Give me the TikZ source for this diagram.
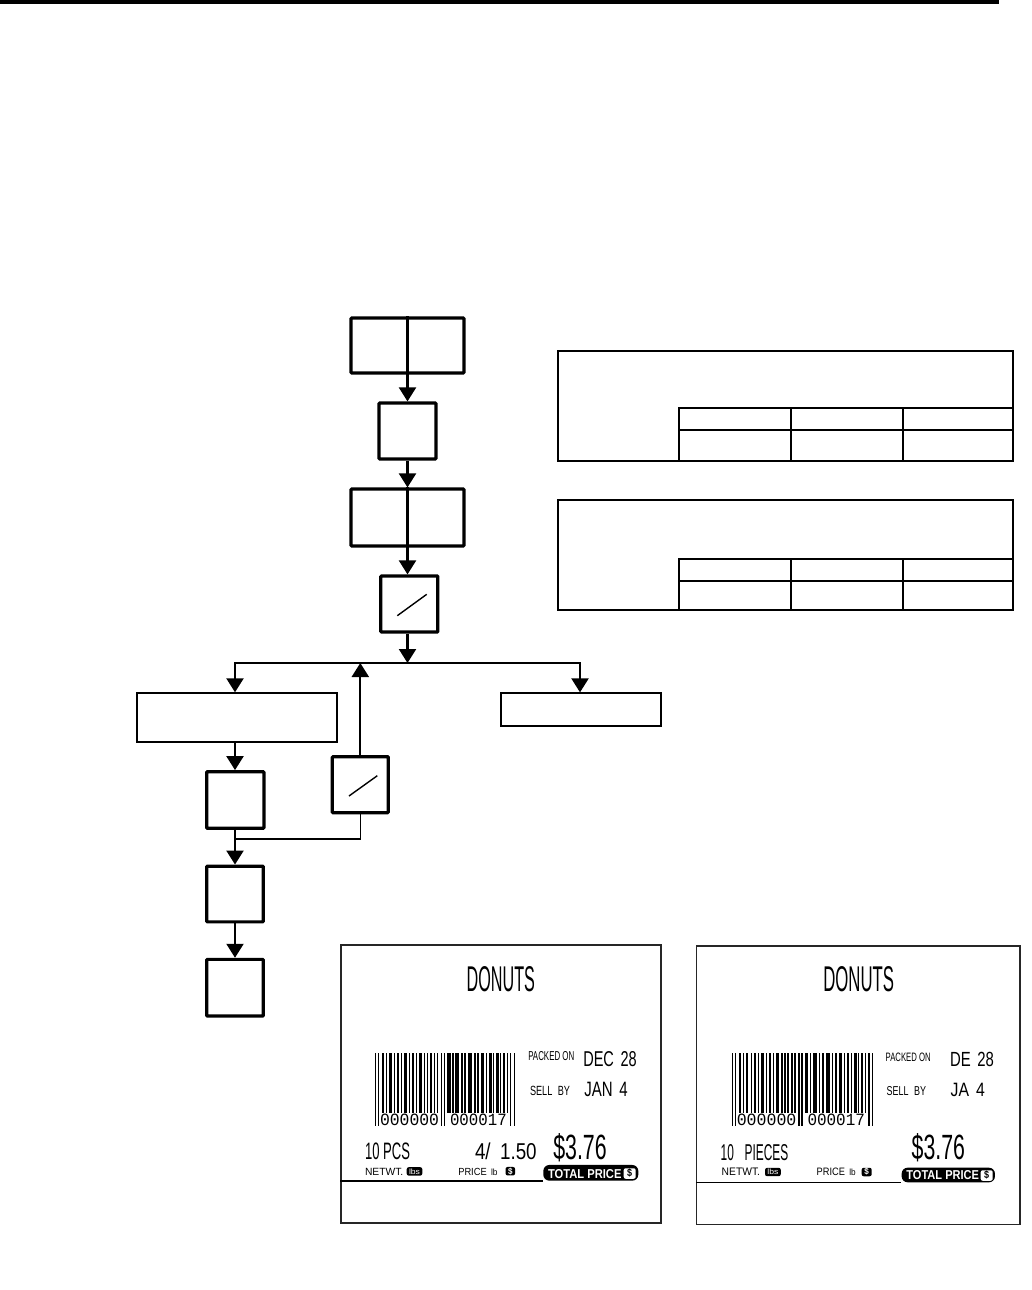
\documentclass[tikz,border=0pt]{standalone}
\usepackage{fontspec}
\usepackage{graphicx}
\newfontfamily\lf{Liberation Sans}
\newfontfamily\lmono{Liberation Mono}
\usetikzlibrary{arrows.meta}
\newcommand\fitt[3]{\resizebox{#1pt}{#2pt}{\lf #3}}
\newcommand\fitT[3]{\resizebox*{#1pt}{#2pt}{\lf #3}}
\newcommand\fitm[3]{\resizebox{#1pt}{#2pt}{\lmono #3}}
\tikzset{
  thickbox/.style={draw, line width=3.2pt, inner sep=0pt, rounded corners=0.8pt},
  thinbox/.style={draw, line width=2pt, inner sep=0pt},
  tbl/.style={draw, line width=2.2pt, inner sep=0pt},
  tline/.style={line width=2.2pt},
  conn/.style={line width=2.2pt},
  arr/.style={conn, -{Triangle[width=17pt,length=14pt]}},
  thinconn/.style={line width=1.6pt},
  slashline/.style={line width=1.4pt},
  labelbox/.style={draw=black!85, line width=1.2pt, inner sep=0pt},
  labline/.style={line width=1.3pt},
  txt/.style={anchor=north west, inner sep=0pt, outer sep=0pt},
  badge/.style={fill=black, inner sep=0pt, text=white},
  wbadge/.style={fill=white, inner sep=0pt, text=black, rounded corners=2pt},
}
\begin{document}
\begin{tikzpicture}[x=1pt,y=-1pt]
\useasboundingbox (0,0) rectangle (1031,1290);
% top rule
\fill (0,0) rectangle (999,4.5);

% ---- main chain ----
\node[thickbox, minimum width=113pt, minimum height=55pt] (b1) at (407.5,345.5) {};
\draw[line width=3.2pt] (b1.north) -- (b1.south);
\node[thickbox, minimum width=57pt, minimum height=56pt] (b2) at (407.5,431) {};
\node[thickbox, minimum width=113pt, minimum height=57pt] (b3) at (407.5,517.5) {};
\draw[line width=3.2pt] (b3.north) -- (b3.south);
\node[thickbox, minimum width=57pt, minimum height=56pt] (b4) at (409.3,604) {};
\draw[slashline] (b4.center) ++(-12,11.7) -- ++(29.4,-21.4);

\draw[arr] (b1.south) -- (b2.north);
\draw[arr] (b2.south) -- (b3.north);
\draw[arr] (b3.south) -- (b3.south |- b4.north);

\coordinate (j0) at (407.5,663);
\coordinate (jl) at (235,663);
\coordinate (jr) at (580,663);
\draw[arr] (b4.south -| b3.south) -- (j0);

\node[thinbox, minimum width=200.6pt, minimum height=48.4pt] (L) at (237,717.5) {};
\node[thinbox, minimum width=160pt, minimum height=32.7pt] (R) at (580.7,709.7) {};
\draw[conn, line join=miter, {Triangle[width=17pt,length=14pt]}-{Triangle[width=17pt,length=14pt]}]
  (jl |- L.north) -- (jl) -- (jr) -- (jr |- R.north);

\node[thickbox, minimum width=56pt, minimum height=56pt] (S) at (360.3,784.7) {};
\draw[slashline] (S.center) ++(-11.3,11.3) -- ++(28.3,-20.3);
\draw[arr] (S.north) -- (S.north |- j0);

\node[thickbox, minimum width=57.3pt, minimum height=56.6pt] (A) at (235.3,800) {};
\node[thickbox, minimum width=56.6pt, minimum height=55.7pt] (B) at (235,894) {};
\node[thickbox, minimum width=56.6pt, minimum height=56.7pt] (C) at (235,987.7) {};
\coordinate (jn) at (235,839);
\draw[arr] (L.south -| jl) -- (A.north -| jl);
\draw[thinconn] (S.south) |- (jn);
\draw[arr] (A.south -| jn) -- (B.north -| jn);
\draw[arr] (B.south) -- (C.north);

% ---- tables ----
\node[tbl, minimum width=455.3pt, minimum height=110pt] (t1) at (785.3,405.7) {};
\draw[tline] (679,460.7) -- (679,408.3) -- (1013,408.3);
\draw[tline] (679,430) -- (1013,430);
\draw[tline] (791,408.3) -- (791,460.7);
\draw[tline] (902.7,408.3) -- (902.7,460.7);

\node[tbl, minimum width=455.3pt, minimum height=110pt] (t2) at (785.3,555) {};
\draw[tline] (679,610) -- (679,559) -- (1013,559);
\draw[tline] (679,581) -- (1013,581);
\draw[tline] (791,559) -- (791,610);
\draw[tline] (902.7,559) -- (902.7,610);

% ---- label 1 ----
\node[labelbox, minimum width=320pt, minimum height=278pt] (lab1) at (501,1084) {};
\node[txt] (dn1) at (466.7,966.7) {\fitt{68.3}{25}{DONUTS}};
\begin{scope}[shift={(375,1052.7)}]
\foreach \a/\w/\h in {0/1.3/73, 3/1.3/73, 7/2/60, 11/1.3/60, 14/2.6/60, 19/1.3/60, 22/2/60, 26/1.3/60, 29/2.6/60, 34/1.3/60, 37/2/60, 41/1.3/60, 44/2.6/60, 49/1.3/60, 52/1.3/60, 55/2/60, 59/1.3/60, 62/1.3/60, 66/1.3/73, 69/1.3/73, 72/3.5/60, 77/1.5/60, 80/4/60, 86/1.5/60, 89/2/60, 93/4/60, 99/1.5/60, 102/2/60, 106/3/60, 111/1.3/60, 114/2.5/60, 118/1.3/60, 121/2.5/60, 125/1.3/60, 128/2/60, 132/1.3/60, 135/1.3/73, 138.5/1.3/73}
  \fill (\a,0) rectangle ++(\w,\h);
\end{scope}
\node[txt] (dg1a) at (380,1113.5) {\fitm{59}{11.5}{000000}};
\node[txt] (dg1b) at (450,1113.5) {\fitm{56.7}{11.5}{000017}};
\node[txt] (pk1) at (528.3,1051.7) {\fitt{46}{9}{PACKED ON}};
\node[txt] (dt1) at (583.3,1051) {\fitt{53.4}{15}{DEC\hspace{0.45em}28}};
\node[txt] (sb1) at (530,1085.7) {\fitt{40}{9.3}{SELL\hspace{0.6em}BY}};
\node[txt] (jn1) at (584.3,1081.7) {\fitt{43.4}{14.3}{JAN\hspace{0.45em}4}};
\node[txt] (pc1) at (365,1142.7) {\fitt{45}{16.6}{10 PCS}};
\node[txt] (up1) at (475,1142.7) {\fitt{61.7}{16.6}{4/\hspace{0.5em}1.50}};
\node[txt] (pr1) at (553.3,1133.3) {\fitT{53.4}{28.4}{\$3.76}};
\node[txt] (nw1) at (365,1168.3) {\fitt{38.3}{7.2}{NETWT.}};
\node[badge, rounded corners=2pt, minimum width=15.6pt, minimum height=8.4pt] (lb1) at (414.5,1171.4) {\fitt{11}{5.5}{lbs}};
\node[txt] (pp1) at (458.3,1168) {\fitt{28.4}{7.2}{PRICE}};
\node[txt] (lg1) at (491,1168.5) {\fitt{6.5}{6.5}{lb}};
\node[badge, rounded corners=2pt, minimum width=9.5pt, minimum height=8.5pt] (sd1) at (510.3,1171.2) {\fitT{4.5}{7}{\bfseries\$}};
\node[badge, rounded corners=6pt, minimum width=95pt, minimum height=15.7pt] (tp1) at (590.8,1172.8) {};
\node[txt, text=white] (tt1) at (548,1169) {\fitt{73.5}{9}{\bfseries TOTAL PRICE}};
\node[wbadge, minimum width=12pt, minimum height=10.5pt] (td1) at (629.7,1173.5) {\fitT{5}{8.5}{\bfseries\$}};
\draw[labline] (lab1.west |- tp1.south) -- (tp1.south west);

% ---- label 2 ----
\node[labelbox, minimum width=323.3pt, minimum height=278.3pt] (lab2) at (858.3,1085.2) {};
\node[txt] (dn2) at (823.3,966.7) {\fitt{70.7}{25}{DONUTS}};
\begin{scope}[shift={(731.7,1052.7)}, xscale=1.011]
\foreach \a/\w/\h in {0/1.3/73, 3/1.3/73, 7/2/60, 11/1.3/60, 14/2.6/60, 19/1.3/60, 22/2/60, 26/1.3/60, 29/2.6/60, 34/1.3/60, 37/2/60, 41/1.3/60, 44/2.6/60, 49/1.3/60, 52/1.3/60, 55/2/60, 59/1.3/60, 62/1.3/60, 66/1.3/73, 69/1.3/73, 72/3.5/60, 77/1.5/60, 80/4/60, 86/1.5/60, 89/2/60, 93/4/60, 99/1.5/60, 102/2/60, 106/3/60, 111/1.3/60, 114/2.5/60, 118/1.3/60, 121/2.5/60, 125/1.3/60, 128/2/60, 132/1.3/60, 135/1.3/73, 138.5/1.3/73}
  \fill (\a,0) rectangle ++(\w,\h);
\end{scope}
\node[txt] (dg2a) at (736.8,1113.5) {\fitm{59.6}{11.5}{000000}};
\node[txt] (dg2b) at (807.5,1113.5) {\fitm{57.4}{11.5}{000017}};
\node[txt] (pk2) at (885.7,1053.3) {\fitt{45}{8.5}{PACKED ON}};
\node[txt] (dt2) at (950,1051.7) {\fitt{44}{14.3}{DE\hspace{0.45em}28}};
\node[txt] (sb2) at (886.7,1086.7) {\fitt{39.3}{9}{SELL\hspace{0.6em}BY}};
\node[txt] (jn2) at (950.7,1082.7) {\fitt{34.3}{13.3}{JA\hspace{0.45em}4}};
\node[txt] (pc2) at (720.7,1144) {\fitt{67.6}{16}{10\hspace{0.9em}PIECES}};
\node[txt] (pr2) at (911.7,1133.3) {\fitT{53.3}{28.4}{\$3.76}};
\node[txt] (nw2) at (721.7,1168.3) {\fitt{38.3}{7.5}{NETWT.}};
\node[badge, rounded corners=2pt, minimum width=15.7pt, minimum height=8.4pt] (lb2) at (772.9,1172) {\fitt{11}{5.5}{lbs}};
\node[txt] (pp2) at (816.7,1168.3) {\fitt{28.3}{7.5}{PRICE}};
\node[txt] (lg2) at (849.3,1169) {\fitt{6.4}{6.5}{lb}};
\node[badge, rounded corners=2pt, minimum width=10pt, minimum height=8.5pt] (sd2) at (866.7,1172) {\fitT{4.5}{7}{\bfseries\$}};
\node[badge, rounded corners=6pt, minimum width=93.3pt, minimum height=14.6pt] (tp2) at (948.3,1175) {};
\node[txt, text=white] (tt2) at (906.4,1170.5) {\fitt{72.6}{9}{\bfseries TOTAL PRICE}};
\node[wbadge, minimum width=12pt, minimum height=10.5pt] (td2) at (986.7,1175.5) {\fitT{5}{8.5}{\bfseries\$}};
\draw[labline] (lab2.west |- tp2.south) -- (tp2.south west);
\end{tikzpicture}
\end{document}
